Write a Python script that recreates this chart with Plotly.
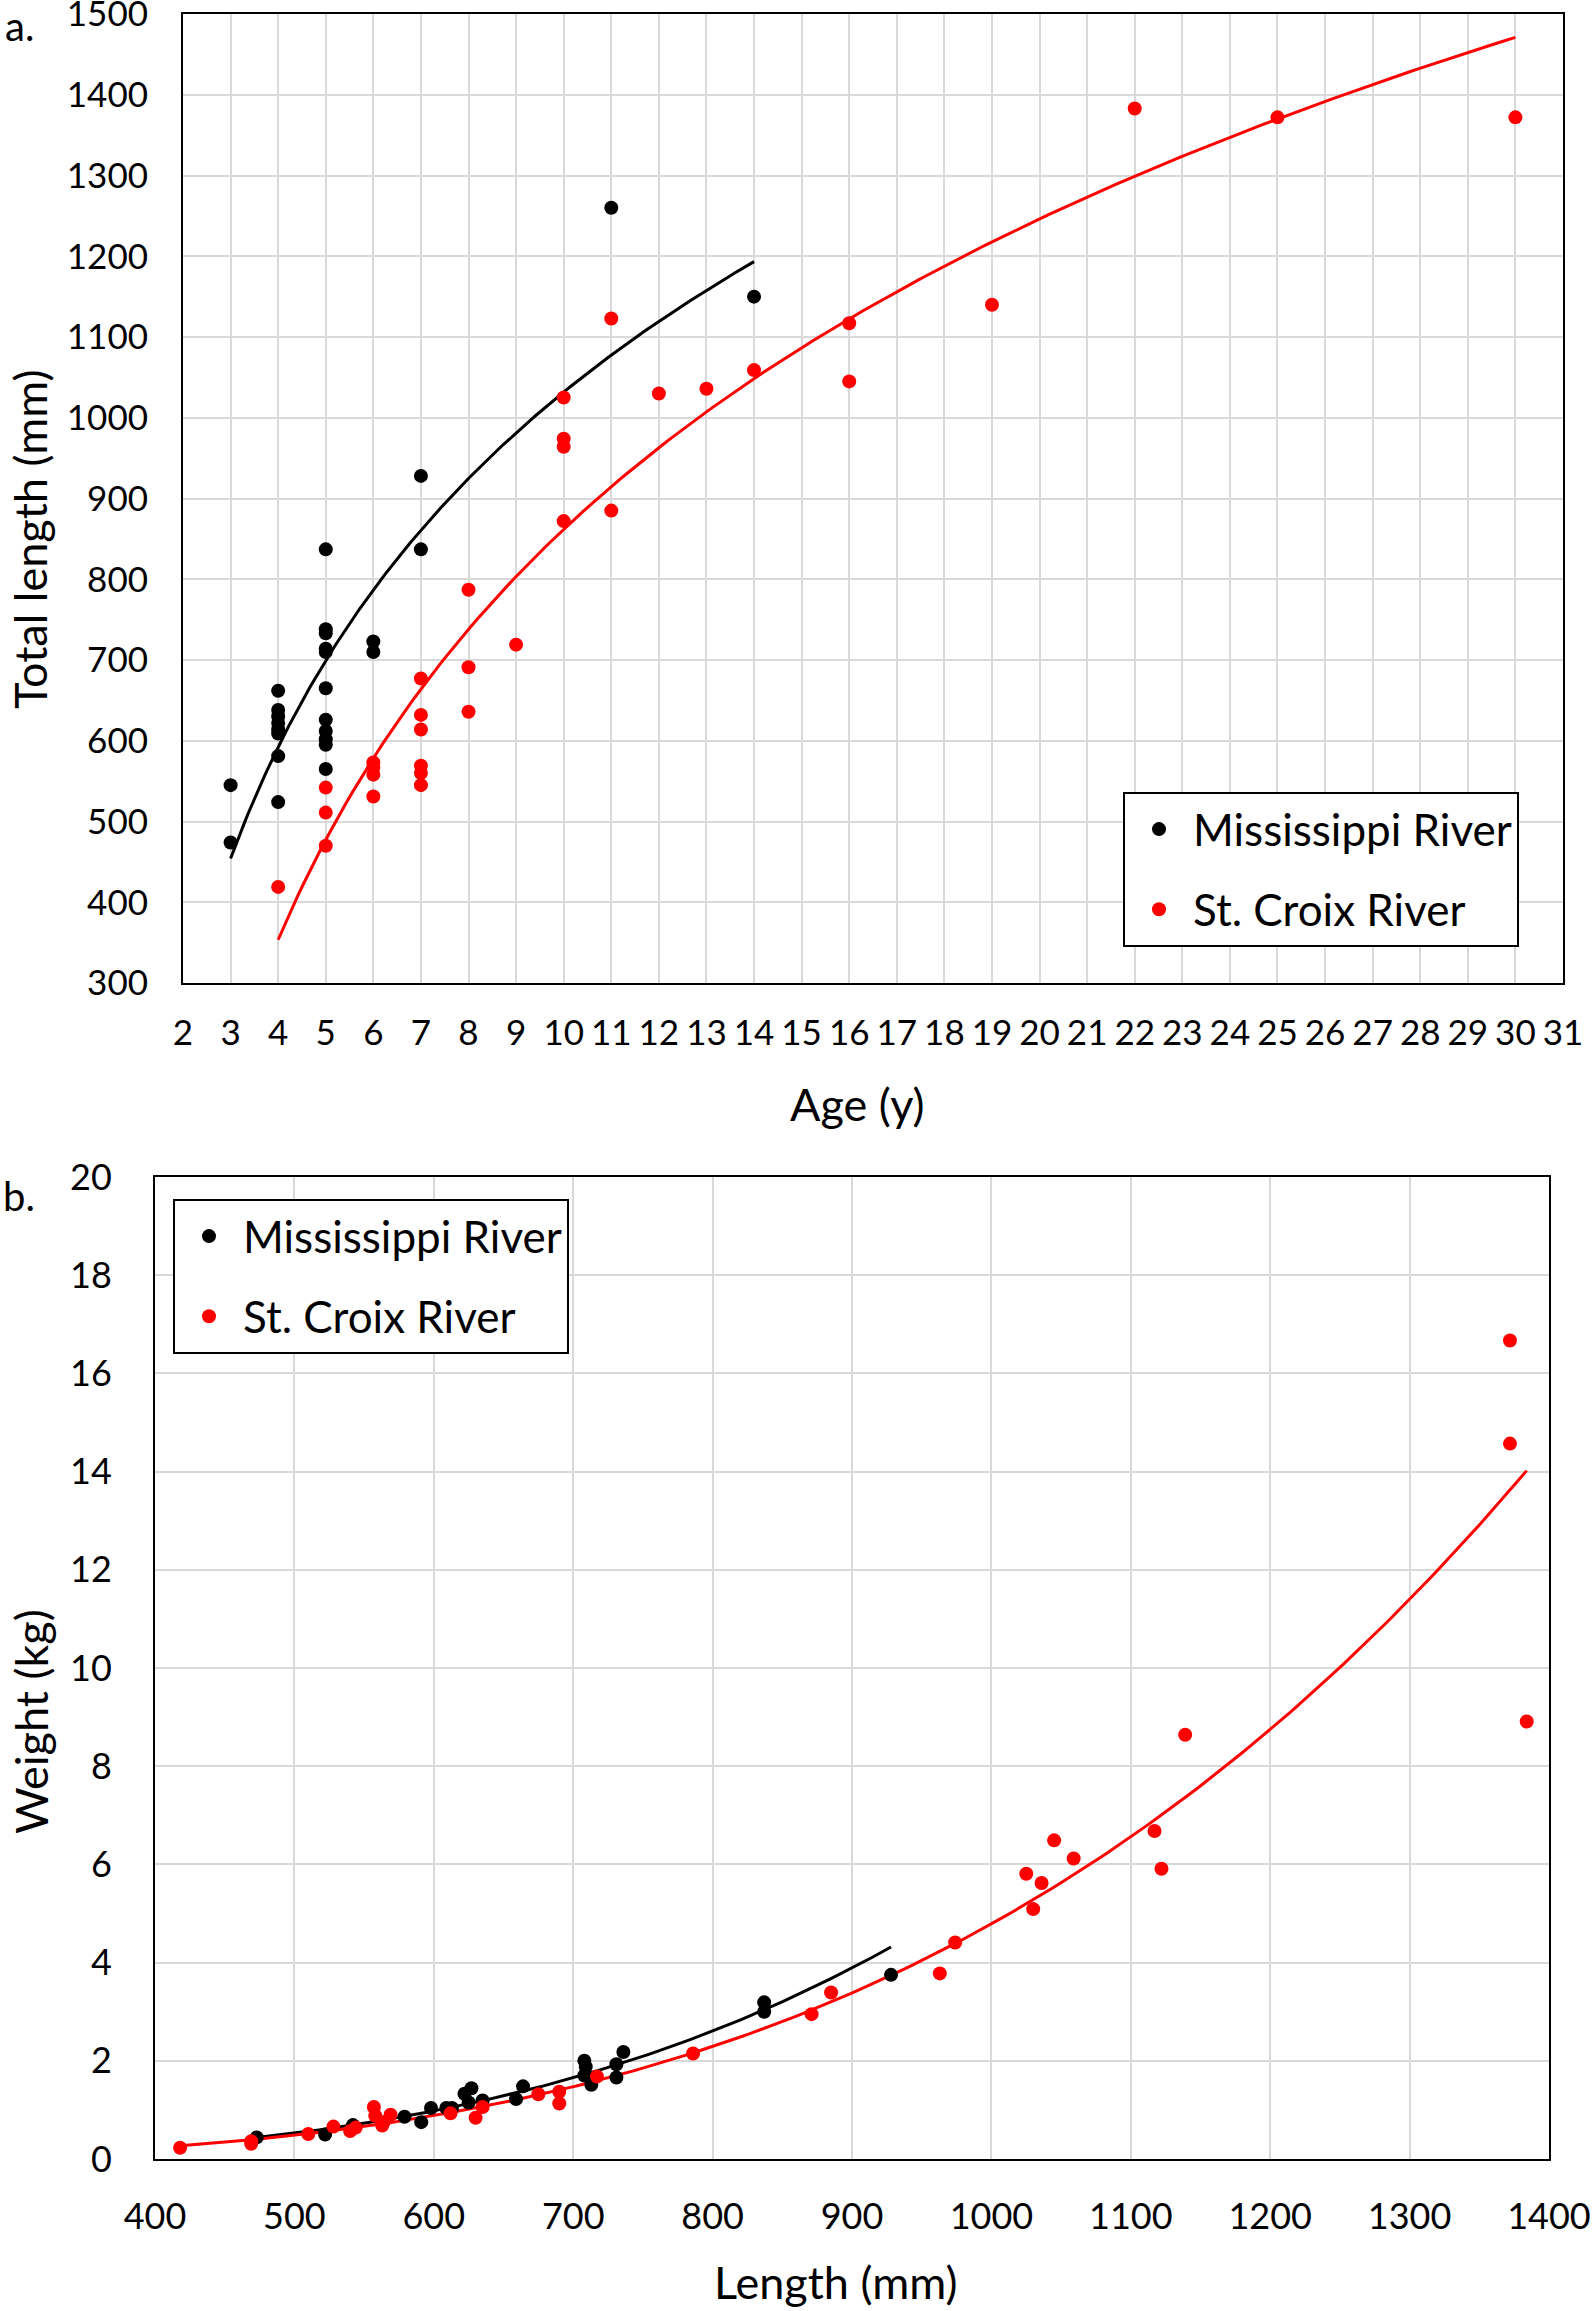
import numpy as np
import plotly.graph_objects as go

# ---------------- Data: panel a (age vs total length) ----------------
miss_age = [3, 3,
            4, 4, 4, 4, 4, 4, 4, 4,
            5, 5, 5, 5, 5, 5, 5, 5, 5, 5, 5,
            6, 6,
            7, 7,
            11, 14]
miss_len = [545, 474,
            662, 638, 630, 622, 614, 609, 581, 524,
            837, 738, 733, 714, 710, 665, 626, 612, 602, 595, 565,
            723, 710,
            928, 837,
            1260, 1150]

stc_age = [4,
           5, 5, 5,
           6, 6, 6, 6,
           7, 7, 7, 7, 7, 7,
           8, 8, 8,
           9,
           10, 10, 10, 10,
           11, 11,
           12, 13, 14,
           16, 16,
           19, 22, 25, 30]
stc_len = [419,
           542, 511, 470,
           573, 567, 558, 531,
           677, 632, 614, 569, 560, 545,
           787, 691, 636,
           719,
           1025, 974, 964, 872,
           1123, 885,
           1030, 1036, 1059,
           1117, 1045,
           1140, 1383, 1372, 1372]

# ---------------- Data: panel b (length vs weight) ----------------
miss_wl = [473, 522, 542, 579, 591, 598, 609, 613, 622, 627, 625, 635, 659, 664,
           708, 709, 708, 713, 731, 731, 736, 837, 837, 928]
miss_w = [0.44, 0.50, 0.69, 0.86, 0.75, 1.04, 1.04, 1.04, 1.33, 1.44, 1.15, 1.19, 1.22, 1.48,
          2.00, 1.88, 1.70, 1.51, 1.93, 1.66, 2.18, 3.19, 3.00, 3.75]

stc_wl = [418, 469, 469, 510, 528, 540, 544, 557, 558, 563, 564, 569, 612, 630, 635,
          675, 690, 690, 717, 786, 871, 885, 963, 974, 1025, 1030, 1036, 1045, 1059,
          1117, 1122, 1139, 1372, 1372, 1384]
stc_w = [0.23, 0.31, 0.36, 0.51, 0.66, 0.57, 0.64, 1.06, 0.88, 0.68, 0.75, 0.90, 0.93, 0.84, 1.06,
         1.32, 1.37, 1.13, 1.68, 2.15, 2.95, 3.39, 3.78, 4.41, 5.81, 5.09, 5.62, 6.49, 6.12,
         6.68, 5.91, 8.64, 16.67, 14.57, 8.91]

names = ["Mississippi River", "St. Croix River"]
colors = ["#000000", "#ff0000"]

FONT = "Lato"


def log_fit(x, y):
    x = np.asarray(x, float)
    y = np.asarray(y, float)
    b, a = np.polyfit(np.log(x), y, 1)
    xs = np.linspace(x.min(), x.max(), 200)
    return xs, a + b * np.log(xs)


def power_fit(x, y):
    x = np.asarray(x, float)
    y = np.asarray(y, float)
    b, ln_a = np.polyfit(np.log(x), np.log(y), 1)
    xs = np.linspace(x.min(), x.max(), 200)
    return xs, np.exp(ln_a) * xs ** b


fig = go.Figure()

# ---- panel a ----
for i, (ax_, ay_) in enumerate([(miss_age, miss_len), (stc_age, stc_len)]):
    xs, ys = log_fit(ax_, ay_)
    fig.add_trace(go.Scatter(x=xs, y=ys, mode="lines", line=dict(color=colors[i], width=3),
                             showlegend=False, hoverinfo="skip", xaxis="x", yaxis="y"))
for i, (ax_, ay_) in enumerate([(miss_age, miss_len), (stc_age, stc_len)]):
    fig.add_trace(go.Scatter(x=ax_, y=ay_, mode="markers", name=names[i],
                             marker=dict(color=colors[i], size=14),
                             legendgroup="a" + str(i), legend="legend",
                             xaxis="x", yaxis="y"))

# ---- panel b ----
for i, (bx_, by_) in enumerate([(miss_wl, miss_w), (stc_wl, stc_w)]):
    xs, ys = power_fit(bx_, by_)
    fig.add_trace(go.Scatter(x=xs, y=ys, mode="lines", line=dict(color=colors[i], width=3),
                             showlegend=False, hoverinfo="skip", xaxis="x2", yaxis="y2"))
for i, (bx_, by_) in enumerate([(miss_wl, miss_w), (stc_wl, stc_w)]):
    fig.add_trace(go.Scatter(x=bx_, y=by_, mode="markers", name=names[i],
                             marker=dict(color=colors[i], size=14),
                             legendgroup="b" + str(i), legend="legend2",
                             xaxis="x2", yaxis="y2"))

W, H = 1594, 2311

axis_common = dict(showgrid=True, gridcolor="#d9d9d9", gridwidth=2,
                   showline=True, linecolor="#000000", linewidth=2, mirror=True,
                   ticks="", zeroline=False, color="#000000", automargin=False,
                   ticklabeloverflow="allow")

legend_common = dict(bgcolor="white", bordercolor="#000000", borderwidth=2,
                     font=dict(family=FONT, size=44, color="#000000"),
                     tracegroupgap=20, itemwidth=58, traceorder="grouped",
                     xanchor="left", yanchor="top")

fig.update_layout(
    width=W, height=H,
    margin=dict(l=0, r=0, t=0, b=0, autoexpand=False),
    paper_bgcolor="white", plot_bgcolor="white",
    font=dict(family=FONT, color="#000000"),
    xaxis=dict(domain=[183 / W, 1563 / W], anchor="y", range=[2, 31], dtick=1, tick0=2,
               tickfont=dict(family=FONT, size=35), ticklabelstandoff=18, **axis_common),
    yaxis=dict(domain=[1 - 983 / H, 1 - 14 / H], anchor="x", range=[300, 1500], dtick=100,
               tickfont=dict(family=FONT, size=35), ticklabelstandoff=26, **axis_common),
    xaxis2=dict(domain=[155 / W, 1549 / W], anchor="y2", range=[400, 1400], dtick=100,
                tickfont=dict(family=FONT, size=36), ticklabelstandoff=25, **axis_common),
    yaxis2=dict(domain=[1 - 2159 / H, 1 - 1177 / H], anchor="x2", range=[0, 20], dtick=2,
                tickfont=dict(family=FONT, size=36), ticklabelstandoff=34, **axis_common),
    legend=dict(x=1123 / W, y=1 - 792 / H, **legend_common),
    legend2=dict(x=173 / W, y=1 - 1199 / H, **legend_common),
)

ann_font = dict(family=FONT, size=45, color="#000000")
lab_font = dict(family=FONT, size=40, color="#000000")
annotations = [
    dict(text="Total length (mm)", x=30 / W, y=1 - 540 / H, textangle=-90),
    dict(text="Age (y)", x=858 / W, y=1 - 1104 / H),
    dict(text="Weight (kg)", x=31 / W, y=1 - 1722 / H, textangle=-90),
    dict(text="Length (mm)", x=835 / W, y=0.0, yanchor="bottom"),
    dict(text="a.", x=19 / W, y=1.0, yanchor="top", font=lab_font),
    dict(text="b.", x=19 / W, y=1 - 1196 / H, font=lab_font),
]
for a in annotations:
    a.setdefault("yanchor", "middle")
    a.setdefault("font", ann_font)
    a.update(xref="paper", yref="paper", showarrow=False, xanchor="center")
fig.update_layout(annotations=annotations)

fig.write_html("out.html", config={"displayModeBar": False},
               post_script="document.body.style.margin='0';")
